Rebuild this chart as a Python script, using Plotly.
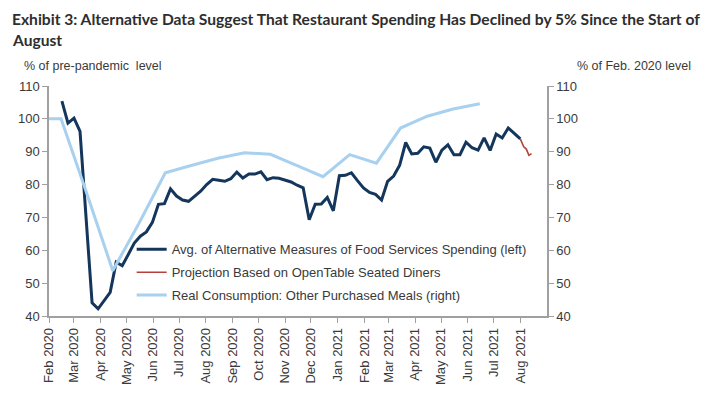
import pandas as pd
import plotly.graph_objects as go

# ---- data ----
alt_start = "2020-02-16"
alt_values = [
    105.4, 98.7, 100.2, 96.2, 70.0, 44.0, 42.2, 44.8, 47.2, 56.4, 55.3,
    58.7, 62.2, 64.3, 65.6, 68.5, 74.0, 74.2, 78.7, 76.5, 75.3, 74.9,
    76.5, 78.0, 80.0, 81.6, 81.3, 81.0, 81.8, 83.8, 82.0, 83.2, 83.2,
    83.9, 81.5, 82.1, 81.9, 81.4, 80.8, 79.8, 79.0, 69.3, 74.0, 74.1,
    76.1, 72.0,
    82.7, 82.8, 83.6, 81.2, 79.0, 77.6, 77.0, 75.3, 81.0, 82.6, 85.9,
    92.8, 89.3, 89.5, 91.5, 91.1, 86.8, 90.5, 92.1, 89.1, 89.1, 92.9,
    91.2, 90.5, 94.2, 90.4, 95.4, 94.2, 97.2, 95.6, 93.9,
]
alt_dates = pd.date_range(alt_start, periods=len(alt_values), freq="7D")

proj_dates = ["2021-08-01", "2021-08-05", "2021-08-08", "2021-08-11", "2021-08-14"]
proj_values = [93.9, 91.5, 90.8, 88.9, 89.4]

cons_dates = [
    "2020-01-15", "2020-02-15", "2020-03-15", "2020-04-15", "2020-05-15",
    "2020-06-15", "2020-07-15", "2020-08-15", "2020-09-15", "2020-10-15",
    "2020-11-15", "2020-12-15", "2021-01-15", "2021-02-15", "2021-03-15",
    "2021-04-15", "2021-05-15", "2021-06-15",
]
cons_values = [100.0, 100.0, 78.0, 53.8, 68.0, 83.6, 85.8, 88.0, 89.7,
               89.2, 85.8, 82.4, 89.1, 86.5, 97.2, 100.8, 103.0, 104.6]

tick_dates = pd.date_range("2020-02-01", "2021-08-01", freq="MS")
tick_labels = [d.strftime("%b %Y") for d in tick_dates]

names = [
    "Avg. of Alternative Measures of Food Services Spending (left)",
    "Projection Based on OpenTable Seated Diners",
    "Real Consumption: Other Purchased Meals (right)",
]
title_lines = [
    "Exhibit 3: Alternative Data Suggest That Restaurant Spending Has Declined by 5% Since the Start of",
    "August",
]

NAVY = "#14365c"
RED = "#b5413c"
LBLUE = "#a8d0ef"
TXT = "#3a3a3a"
AX = "#a0a0a0"
FONT = "Liberation Sans, Arial, sans-serif"
TFONT = "Lato, sans-serif"

fig = go.Figure()
fig.add_trace(go.Scatter(x=alt_dates, y=alt_values, mode="lines", name=names[0],
                         line=dict(color=NAVY, width=3), legendgroup="a"))
fig.add_trace(go.Scatter(x=proj_dates, y=proj_values, mode="lines", name=names[1],
                         line=dict(color=RED, width=1.6), legendgroup="b"))
fig.add_trace(go.Scatter(x=cons_dates, y=cons_values, mode="lines", name=names[2],
                         line=dict(color=LBLUE, width=3), legendgroup="c", yaxis="y2"))

axis_common = dict(showgrid=False, zeroline=False, showline=True, linecolor=AX,
                   linewidth=1.5, ticks="outside", tickcolor=AX, ticklen=5,
                   tickwidth=1.2, tickfont=dict(family=FONT, size=13, color=TXT))

W, H = 705, 396
annotations = [
    dict(text=title_lines[0], xref="paper", yref="paper",
         x=-39 / 498, y=1 + (86 - 19) / 230, xanchor="left", yanchor="middle",
         showarrow=False, font=dict(family=TFONT, size=15.6, color="#2e2e2e", weight="bold")),
    dict(text=title_lines[1], xref="paper", yref="paper",
         x=-39 / 498, y=1 + (86 - 40) / 230, xanchor="left", yanchor="middle",
         showarrow=False, font=dict(family=TFONT, size=15.6, color="#2e2e2e", weight="bold")),
    dict(text="% of pre-pandemic  level", xref="paper", yref="paper",
         x=-27 / 498, y=1 + 20 / 230, xanchor="left", yanchor="middle",
         showarrow=False, font=dict(family=FONT, size=12.5, color=TXT)),
    dict(text="% of Feb. 2020 level", xref="paper", yref="paper",
         x=1 + 146 / 498, y=1 + 20 / 230, xanchor="right", yanchor="middle",
         showarrow=False, font=dict(family=FONT, size=12.5, color=TXT)),
]

fig.update_layout(
    width=W, height=H,
    margin=dict(l=49, r=158, t=86, b=80),
    paper_bgcolor="white", plot_bgcolor="white",
    font=dict(family=FONT, color=TXT),
    xaxis=dict(axis_common, type="date", range=["2020-02-01", "2021-09-01"],
               tickmode="array", tickvals=tick_dates, ticktext=tick_labels,
               tickangle=-90),
    yaxis=dict(axis_common, range=[40, 110], tickvals=[40, 50, 60, 70, 80, 90, 100, 110]),
    yaxis2=dict(axis_common, range=[40, 110], tickvals=[40, 50, 60, 70, 80, 90, 100, 110],
                overlaying="y", side="right"),
    legend=dict(x=0.166, y=0.355, xanchor="left", yanchor="top",
                bgcolor="rgba(0,0,0,0)", font=dict(family=FONT, size=13, color=TXT),
                traceorder="grouped", tracegroupgap=3),
    annotations=annotations,
)

fig.write_html("out.html", config={"displayModeBar": False},
               post_script="document.body.style.margin='0px';")
